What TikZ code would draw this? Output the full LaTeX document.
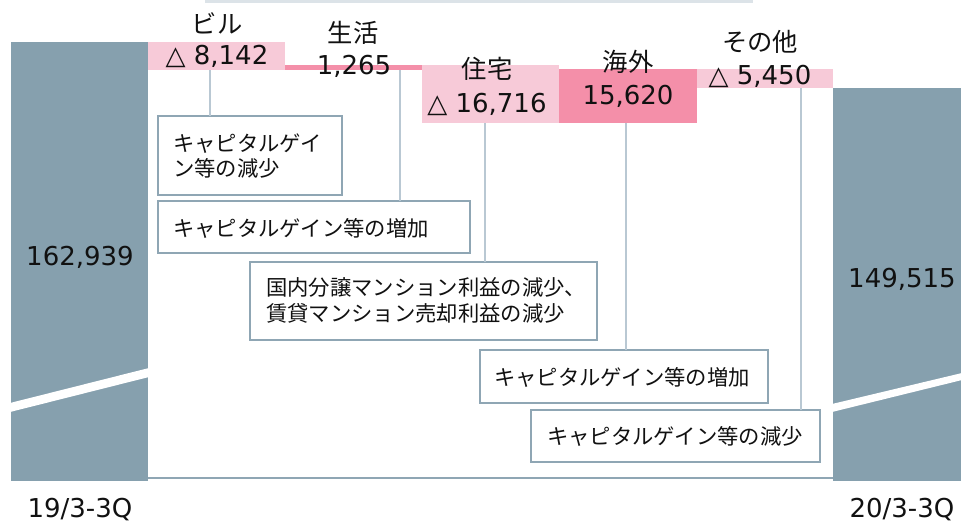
\documentclass[tikz,border=0pt]{standalone}
\usepackage{fontspec}
\setmainfont{DejaVu Sans}
\newfontfamily\jp{Noto Sans CJK JP}
\usetikzlibrary{fit}
\definecolor{barblue}{HTML}{86A0AE}
\definecolor{pinkL}{HTML}{F7CAD8}
\definecolor{pinkD}{HTML}{F48FA9}
\definecolor{linec}{HTML}{B9C8D3}
\definecolor{boxc}{HTML}{8FA6B4}
\definecolor{topc}{HTML}{DCE3E8}
\definecolor{txt}{HTML}{111111}
\begin{document}
\begin{tikzpicture}[x=0.75pt,y=-0.75pt,
  bar/.style={fit={#1}, inner sep=0pt, outer sep=0pt, draw=none},
  boxn/.style={fit={#1}, inner sep=0pt, outer sep=0pt, draw=boxc, line width=0.8pt, fill=white},
  conn/.style={draw=linec, line width=0.8pt},
  num/.style={anchor=base, inner sep=0pt, font=\fontsize{19.5}{23}\selectfont, text=txt},
  hdr/.style={anchor=base, inner sep=0pt, font=\jp\fontsize{19}{23}\selectfont, text=txt},
  btxt/.style={anchor=base west, inner sep=0pt, font=\jp\fontsize{16}{19}\selectfont, text=txt}
]
\useasboundingbox (0,0) rectangle (961,522);
% top strip
\fill[topc] (205,0) rectangle (753,3);
% end bars
\node[bar={(11,42) (148,481)}, fill=barblue] (b19) {};
\fill[white] (10,403) -- (149,368) -- (149,377) -- (10,412) -- cycle;
\node[bar={(833,88) (961,481)}, fill=barblue] (b20) {};
\fill[white] (832,404) -- (962,373) -- (962,380) -- (832,412) -- cycle;
% axis
\draw[boxc, line width=0.9pt] (148,478) -- (833,478);
% step bars
\node[bar={(148,42) (285,70)}, fill=pinkL] (bil) {};
\node[bar={(285,65) (422,70)}, fill=pinkD] (sei) {};
\node[bar={(422,65) (559,123)}, fill=pinkL] (jut) {};
\node[bar={(559,69) (697,123)}, fill=pinkD] (kai) {};
\node[bar={(697,69) (833,88)}, fill=pinkL] (oth) {};
% boxes
\node[boxn={(158,116) (342,195)}] (box1) {};
\node[boxn={(158,201) (470,253)}] (box2) {};
\node[boxn={(250,262) (597,340)}] (box3) {};
\node[boxn={(480,350) (768,403)}] (box4) {};
\node[boxn={(531,410) (820,462)}] (box5) {};
% connectors
\coordinate (c1) at (210,0);
\coordinate (c2) at (400,0);
\coordinate (c3) at (485,0);
\coordinate (c4) at (626,0);
\coordinate (c5) at (801,0);
\draw[conn] (bil.south -| c1) -- (box1.north -| c1);
\draw[conn] (sei.south -| c2) -- (box2.north -| c2);
\draw[conn] (jut.south -| c3) -- (box3.north -| c3);
\draw[conn] (kai.south -| c4) -- (box4.north -| c4);
\draw[conn] (oth.south -| c5) -- (box5.north -| c5);
% values
\node[num] (v19) at (80,265) {162,939};
\node[num] (v20) at (902,287) {149,515};
\node[num] (l19) at (80,517) {19/3-3Q};
\node[num] (l20) at (902,517) {20/3-3Q};
\node[num] (vbil) at (217,64) {△ 8,142};
\node[num] (vsei) at (354,74) {1,265};
\node[num] (vjut) at (487,112) {△ 16,716};
\node[num] (vkai) at (628,104) {15,620};
\node[num] (voth) at (760,84) {△ 5,450};
% headers
\node[hdr] (hbil) at (217,33) {ビル};
\node[hdr] (hsei) at (353,42) {生活};
\node[hdr] (hjut) at (487,78) {住宅};
\node[hdr] (hkai) at (628,71) {海外};
\node[hdr] (hoth) at (760,51) {その他};
% box texts
\node[btxt] (t1a) at (173,151) {キャピタルゲイ};
\node[btxt] (t1b) at (173,176) {ン等の減少};
\node[btxt] (t2) at (173,236) {キャピタルゲイン等の増加};
\node[btxt] (t3a) at (266,295) {国内分譲マンション利益の減少、};
\node[btxt] (t3b) at (266,321) {賃貸マンション売却利益の減少};
\node[btxt] (t4) at (494,385) {キャピタルゲイン等の増加};
\node[btxt] (t5) at (547,444) {キャピタルゲイン等の減少};
\end{tikzpicture}
\end{document}
